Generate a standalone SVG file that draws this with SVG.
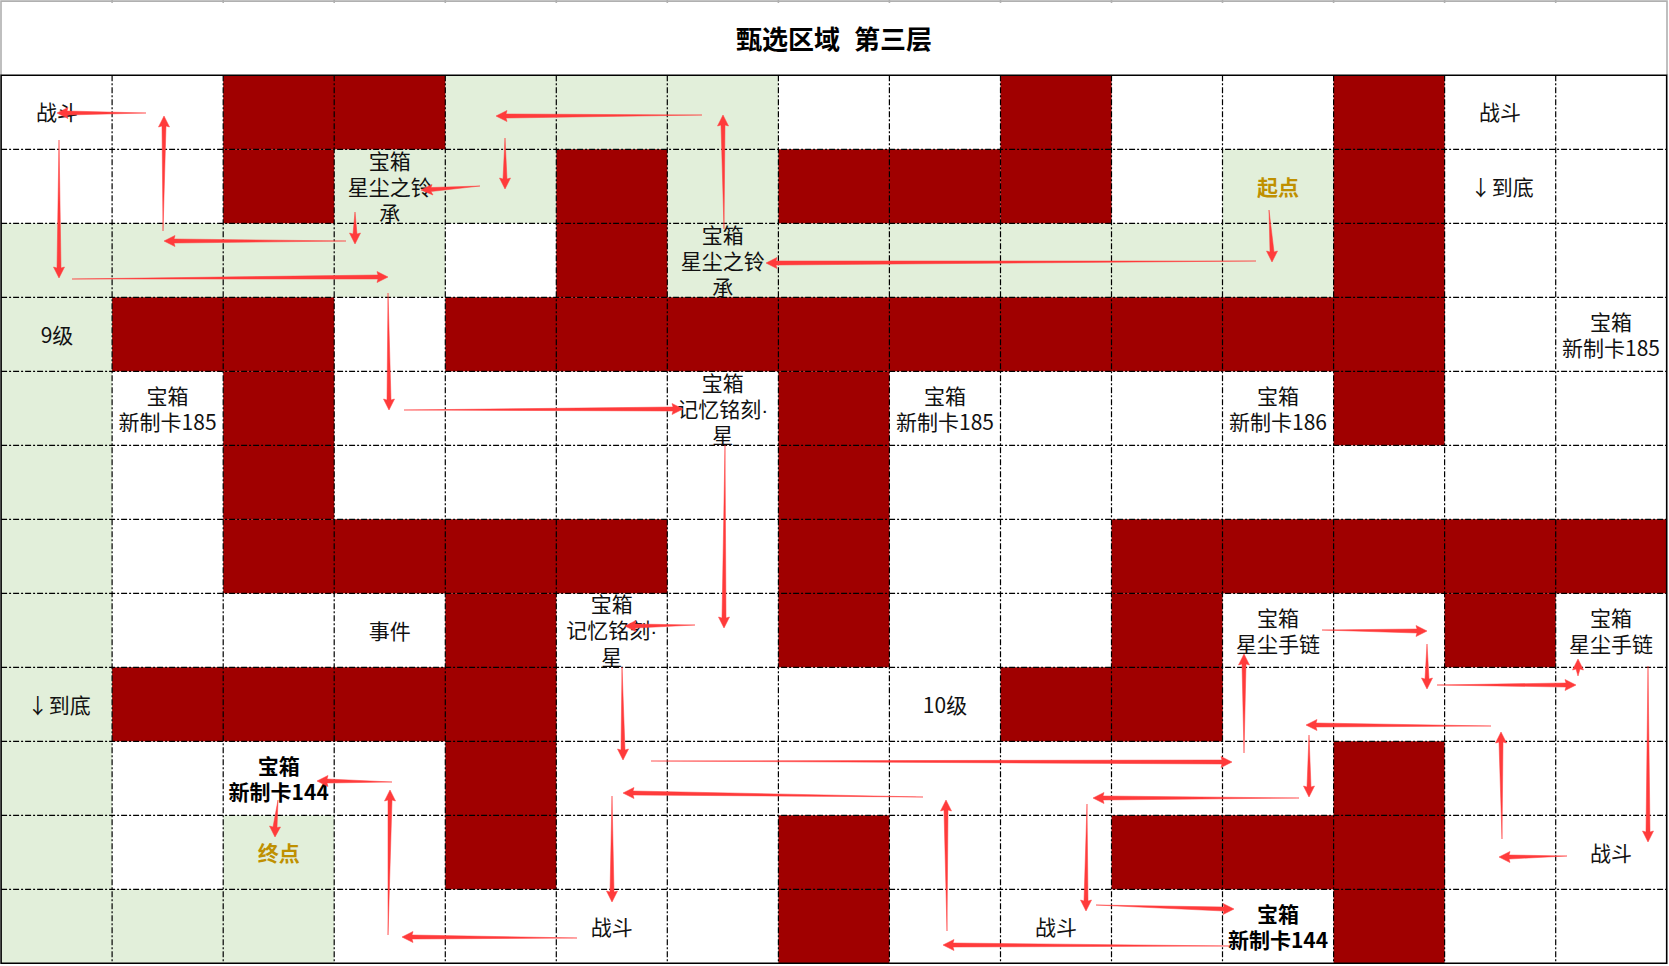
<svg xmlns="http://www.w3.org/2000/svg" width="1669" height="966" viewBox="0 0 1669 966">
<style>
text{font-family:"Noto Sans CJK SC","Liberation Sans",sans-serif;font-size:21px;fill:#111;text-anchor:middle}
tspan.l{font-family:"Liberation Sans",sans-serif}
tspan.w{letter-spacing:-4px}
.b{font-weight:700;fill:#000}
.g{font-weight:700;fill:#BF9000}
.t{font-size:26px;font-weight:700;fill:#000;word-spacing:1px}
.r{fill:#A00000}
.e{fill:#E2EFDA}
.a{fill:#FF3B3B;stroke:#FF3B3B;stroke-width:.5;stroke-linejoin:round}
.d{fill:none;stroke:#000;stroke-width:1.2;stroke-dasharray:6 2 2 2}
.f{fill:none;stroke:#000;stroke-width:1.6}
.h{fill:none;stroke:#B0B0B0;stroke-width:1.6}
</style>
<rect width="1669" height="966" fill="#fff"/>
<g id="cells">
<g class="e">
<rect x="445.3" y="75.3" width="333.1" height="74"/>
<rect x="334.2" y="149.3" width="222.1" height="74"/>
<rect x="667.3" y="149.3" width="111.1" height="74"/>
<rect x="1222.5" y="149.3" width="111.1" height="74"/>
<rect x="1.1" y="223.3" width="444.2" height="74"/>
<rect x="667.3" y="223.3" width="666.3" height="74"/>
<rect x="1.1" y="297.3" width="111" height="666"/>
<rect x="112.1" y="889.3" width="222.1" height="74"/>
<rect x="223.2" y="815.3" width="111" height="74"/>
</g>
<g class="r">
<rect x="223.2" y="75.3" width="222.1" height="74"/>
<rect x="1000.5" y="75.3" width="111" height="148"/>
<rect x="1333.6" y="75.3" width="111" height="370"/>
<rect x="223.2" y="149.3" width="111" height="74"/>
<rect x="556.3" y="149.3" width="111" height="148"/>
<rect x="778.4" y="149.3" width="222.1" height="74"/>
<rect x="112.1" y="297.3" width="222.1" height="74"/>
<rect x="445.3" y="297.3" width="999.3" height="74"/>
<rect x="223.2" y="371.3" width="111" height="148"/>
<rect x="778.4" y="371.3" width="111" height="296"/>
<rect x="223.2" y="519.3" width="444.1" height="74"/>
<rect x="1111.5" y="519.3" width="555.2" height="74"/>
<rect x="445.3" y="593.3" width="111" height="296"/>
<rect x="1111.5" y="593.3" width="111" height="148"/>
<rect x="1444.6" y="593.3" width="111.1" height="74"/>
<rect x="112.1" y="667.3" width="444.2" height="74"/>
<rect x="1000.5" y="667.3" width="222" height="74"/>
<rect x="1333.6" y="741.3" width="111" height="222"/>
<rect x="778.4" y="815.3" width="111" height="148"/>
<rect x="1111.5" y="815.3" width="333.1" height="74"/>
</g>
</g>
<g id="grid">
<path class="d" d="M1.1 149.3H1666.7M1.1 223.3H1666.7M1.1 297.3H1666.7M1.1 371.3H1666.7M1.1 445.3H1666.7M1.1 519.3H1666.7M1.1 593.3H1666.7M1.1 667.3H1666.7M1.1 741.3H1666.7M1.1 815.3H1666.7M1.1 889.3H1666.7"/>
<path class="d" d="M112.1 75.3V963.3M223.2 75.3V963.3M334.2 75.3V963.3M445.3 75.3V963.3M556.3 75.3V963.3M667.3 75.3V963.3M778.4 75.3V963.3M889.4 75.3V963.3M1000.5 75.3V963.3M1111.5 75.3V963.3M1222.5 75.3V963.3M1333.6 75.3V963.3M1444.6 75.3V963.3M1555.7 75.3V963.3"/>
<path class="h" d="M1 75V1.1H1667V75M112.1 0V3M223.2 0V3M334.2 0V3M445.3 0V3M556.3 0V3M667.3 0V3M778.4 0V3M889.4 0V3M1000.5 0V3M1111.5 0V3M1222.5 0V3M1333.6 0V3M1444.6 0V3M1555.7 0V3"/>
<path class="f" d="M1.1 75.3H1666.7V963.3H1.1Z"/>
</g>
<g id="title"><text class="t" x="834" y="49" xml:space="preserve">甄选区域  第三层</text></g>
<g id="nodes">
<g id="n1"><text x="57" y="120">战斗</text></g>
<g id="n2"><text x="1500" y="120">战斗</text></g>
<g id="n3"><text x="1502" y="195"><tspan class="w">↓</tspan> 到底</text></g>
<g id="n4"><text class="g" x="1278" y="195">起点</text></g>
<g id="n5"><text x="389.7" y="169">宝箱</text><text x="389.7" y="195">星尘之铃</text><text x="389.7" y="221">承</text></g>
<g id="n6"><text x="722.8" y="243">宝箱</text><text x="722.8" y="269">星尘之铃</text><text x="722.8" y="295">承</text></g>
<g id="n7"><text x="57" y="343">9级</text></g>
<g id="n8"><text x="1611" y="330">宝箱</text><text x="1611" y="356">新制卡185</text></g>
<g id="n9"><text x="167.6" y="404">宝箱</text><text x="167.6" y="430">新制卡185</text></g>
<g id="n10"><text x="722.8" y="391">宝箱</text><text x="722.8" y="417">记忆铭刻<tspan class="l">·</tspan></text><text x="722.8" y="443">星</text></g>
<g id="n11"><text x="945" y="404">宝箱</text><text x="945" y="430">新制卡185</text></g>
<g id="n12"><text x="1278" y="404">宝箱</text><text x="1278" y="430">新制卡186</text></g>
<g id="n13"><text x="389.7" y="639">事件</text></g>
<g id="n14"><text x="611.8" y="612">宝箱</text><text x="611.8" y="638">记忆铭刻<tspan class="l">·</tspan></text><text x="611.8" y="665">星</text></g>
<g id="n15"><text x="1278" y="626">宝箱</text><text x="1278" y="652">星尘手链</text></g>
<g id="n16"><text x="1611" y="626">宝箱</text><text x="1611" y="652">星尘手链</text></g>
<g id="n17"><text x="59" y="713"><tspan class="w">↓</tspan> 到底</text></g>
<g id="n18"><text x="945" y="713">10级</text></g>
<g id="n19"><text class="b" x="278.7" y="774">宝箱</text><text class="b" x="278.7" y="800">新制卡144</text></g>
<g id="n20"><text class="g" x="278.7" y="861">终点</text></g>
<g id="n21"><text x="1611" y="861">战斗</text></g>
<g id="n22"><text x="611.8" y="935">战斗</text></g>
<g id="n23"><text x="1056" y="935">战斗</text></g>
<g id="n24"><text class="b" x="1278" y="922">宝箱</text><text class="b" x="1278" y="948">新制卡144</text></g>
</g>
<g id="connectors" class="a">
<polygon points="146,113 67,111 68,107.5 57,113 68,118.5 67,115"/>
<polygon points="163,231 162,126 158.5,127 164,116 169.5,127 166,126"/>
<polygon points="59,140 57,268 53.5,267 59,278 64.5,267 61,268"/>
<polygon points="72,279 378,275 377,271.5 388,277 377,282.5 378,279"/>
<polygon points="346,241 174,239 175,235.5 164,241 175,246.5 174,243"/>
<polygon points="355,212 353,234 349.5,233 355,244 360.5,233 357,234"/>
<polygon points="480,186 431,187.5 432,184.5 421,190 433,195 431,191.5"/>
<polygon points="505,138 503,179 499.5,178 505,189 510.5,178 507,179"/>
<polygon points="702,115 506,114 507,110.5 496,116 507,121.5 506,118"/>
<polygon points="724,229 721,125 717.5,126 723,115 728.5,126 725,125"/>
<polygon points="1256,261 776,261 777,257.5 766,263 777,268.5 776,265"/>
<polygon points="1269,210 1270,252 1266.5,251 1272,262 1277.5,251 1274,252"/>
<polygon points="388,293 387,400 383.5,399 389,410 394.5,399 391,400"/>
<polygon points="404,410 673,407 672,403.5 683,409 672,414.5 673,411"/>
<polygon points="725,445 722,618 718.5,617 724,628 729.5,617 726,618"/>
<polygon points="695,625 635,624 636,620.5 625,626 636,631.5 635,628"/>
<polygon points="622,667 621,750 617.5,749 623,760 628.5,749 625,750"/>
<polygon points="651,761 1222,760 1221,756.5 1232,762 1221,767.5 1222,764"/>
<polygon points="1244,753 1242,664 1238.5,665 1244,654 1249.5,665 1246,664"/>
<polygon points="1322,630 1417,629 1416,625.5 1427,631 1416,636.5 1417,633"/>
<polygon points="1427,644 1425,679 1421.5,678 1427,689 1432.5,678 1429,679"/>
<polygon points="1437,685 1566,683 1565,679.5 1576,685 1565,690.5 1566,687"/>
<polygon points="1578,676 1576,669 1572.5,670 1578,659 1583.5,670 1580,669"/>
<polygon points="1648,666 1646,832 1642.5,831 1648,842 1653.5,831 1650,832"/>
<polygon points="1567,856 1509,855 1510,851.5 1499,857 1510,862.5 1509,859"/>
<polygon points="1502,839 1499,742 1495.5,743 1501,732 1506.5,743 1503,742"/>
<polygon points="1491,726 1316,723 1317,719.5 1306,725 1317,730.5 1316,727"/>
<polygon points="1309,735 1307,787 1303.5,786 1309,797 1314.5,786 1311,787"/>
<polygon points="1299,798 1103,796 1104,792.5 1093,798 1104,803.5 1103,800"/>
<polygon points="1087,804 1084,901 1080.5,900 1086,911 1091.5,900 1088,901"/>
<polygon points="1096,905 1224,907 1223,903.5 1234,909 1223,914.5 1224,911"/>
<polygon points="1230,946 953,943 954,939.5 943,945 954,950.5 953,947"/>
<polygon points="947,931 944,810 940.5,811 946,800 951.5,811 948,810"/>
<polygon points="923,797 633,791 634,787.5 623,793 634,798.5 633,795"/>
<polygon points="612,796 610,892 606.5,891 612,902 617.5,891 614,892"/>
<polygon points="577,938 412,935 413,931.5 402,937 413,942.5 412,939"/>
<polygon points="388,935 388,800 384.5,801 390,790 395.5,801 392,800"/>
<polygon points="392,782 327,779 328,775.5 317,781 328,786.5 327,783"/>
<polygon points="278,800 273,827 269.5,826 275,837 280.5,827 277,827.5"/>
</g>
</svg>
